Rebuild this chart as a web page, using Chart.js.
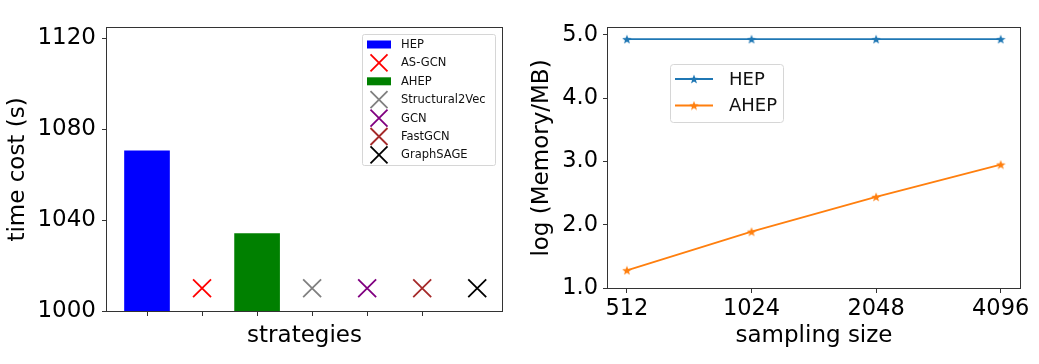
<!DOCTYPE html>
<html>
<head>
<meta charset="utf-8">
<script src="https://cdn.jsdelivr.net/npm/chart.js@4.4.0/dist/chart.umd.min.js"></script>
<style>
    body { margin: 0; background: #fff; }
    .wrap { position: absolute; top: 0; height: 364px; }
    #left { left: 0; width: 520px; }
    #right { left: 520px; width: 519px; }
</style>
</head>
<body>
<div class="wrap" id="left"><canvas id="timeChart" width="520" height="364"></canvas></div>
<div class="wrap" id="right"><canvas id="memChart" width="519" height="364"></canvas></div>
<script>
// Left panel: time cost per strategy
const strategies = ['HEP', 'AS-GCN', 'AHEP', 'Structural2Vec', 'GCN', 'FastGCN', 'GraphSAGE'];
const timeCost = [1070.4, 1010, 1034, 1010, 1010, 1010, 1010];
const drawnAsBar = [true, false, true, false, false, false, false];
const strategyColors = ['#0000ff', '#ff0000', '#008000', '#808080', '#800080', '#a52a2a', '#000000'];
const timeTicks = [1000, 1040, 1080, 1120];

// Right panel: memory vs sampling size
const samplingSizes = ['512', '1024', '2048', '4096'];
const hepMemory = [4.93, 4.93, 4.93, 4.93];
const ahepMemory = [1.28, 1.89, 2.44, 2.95];
const memTicks = [1.0, 2.0, 3.0, 4.0, 5.0];

const FONT = "'DejaVu Sans', sans-serif";
Chart.defaults.font.family = FONT;
Chart.defaults.color = '#000';

// small filled star, like matplotlib's '*' marker
function makeStar(color, size) {
    const c = document.createElement('canvas');
    c.width = size; c.height = size;
    const g = c.getContext('2d');
    const r = size / 2, ri = r * 0.42;
    g.beginPath();
    for (let i = 0; i < 10; i++) {
        const rad = (i % 2 === 0) ? r : ri;
        const a = -Math.PI / 2 + i * Math.PI / 5;
        g.lineTo(r + rad * Math.cos(a), r + 0.5 + rad * Math.sin(a));
    }
    g.closePath();
    g.fillStyle = color;
    g.fill();
    return c;
}

function drawX(ctx, x, y, half, color) {
    ctx.save();
    ctx.strokeStyle = color;
    ctx.lineWidth = 1.8;
    ctx.beginPath();
    ctx.moveTo(x - half, y - half); ctx.lineTo(x + half, y + half);
    ctx.moveTo(x - half, y + half); ctx.lineTo(x + half, y - half);
    ctx.stroke();
    ctx.restore();
}

function roundRect(ctx, x, y, w, h, r) {
    ctx.beginPath();
    ctx.moveTo(x + r, y);
    ctx.arcTo(x + w, y, x + w, y + h, r);
    ctx.arcTo(x + w, y + h, x, y + h, r);
    ctx.arcTo(x, y + h, x, y, r);
    ctx.arcTo(x, y, x + w, y, r);
    ctx.closePath();
}

const framePlugin = {
    id: 'frame',
    afterDatasetsDraw(chart) {
        const a = chart.chartArea, ctx = chart.ctx;
        ctx.save();
        ctx.strokeStyle = '#333';
        ctx.lineWidth = 1;
        ctx.strokeRect(Math.round(a.left) - 0.5, Math.round(a.top) - 0.5,
            Math.round(a.right - a.left) + 1, Math.round(a.bottom - a.top) + 1);
        ctx.restore();
    }
};

function tickGrid() {
    return { display: true, offset: false, drawOnChartArea: false, drawTicks: true, tickLength: 5, color: '#333', lineWidth: 1 };
}

// ---- left chart ----
const timeDatasets = strategies.map((name, i) => {
    const point = [{ x: i, y: timeCost[i] }];
    if (drawnAsBar[i]) {
        return {
            type: 'bar', label: name, data: point,
            backgroundColor: strategyColors[i], borderWidth: 0,
            barThickness: 45, grouped: false
        };
    }
    return {
        type: 'scatter', label: name, data: point,
        pointStyle: 'crossRot', radius: 12.7, borderColor: strategyColors[i],
        borderWidth: 1.8, backgroundColor: strategyColors[i]
    };
});

const timeLegend = {
    id: 'timeLegend',
    afterDraw(chart) {
        const ctx = chart.ctx;
        ctx.save();
        roundRect(ctx, 362.5, 34.5, 133, 131, 2);
        ctx.fillStyle = 'rgba(255,255,255,0.8)';
        ctx.fill();
        ctx.strokeStyle = '#d6d6d6';
        ctx.lineWidth = 1;
        ctx.stroke();
        ctx.font = '11.5px ' + FONT;
        ctx.textBaseline = 'middle';
        strategies.forEach((name, i) => {
            const y = 44.5 + i * 18.4;
            if (drawnAsBar[i]) {
                ctx.fillStyle = strategyColors[i];
                ctx.fillRect(367, y - 4, 24, 8);
            } else {
                drawX(ctx, 379, y, 8.5, strategyColors[i]);
            }
            ctx.fillStyle = '#111';
            ctx.fillText(name, 401, y + 0.5);
        });
        ctx.restore();
    }
};

new Chart(document.getElementById('timeChart'), {
    type: 'bar',
    data: { datasets: timeDatasets },
    options: {
        responsive: false,
        animation: false,
        events: [],
        layout: { padding: { left: 0, right: 18, top: 28, bottom: 0 } },
        plugins: { legend: { display: false }, tooltip: { enabled: false } },
        scales: {
            x: {
                type: 'linear', min: -0.727, max: 6.45, offset: false,
                afterBuildTicks: s => { s.ticks = strategies.slice(0, 6).map((_, i) => ({ value: i })); },
                afterFit: s => { s.height = 53; },
                ticks: { callback: () => '', padding: 0 },
                grid: tickGrid(),
                border: { display: false },
                title: { display: true, text: 'strategies', font: { size: 23 }, padding: { bottom: 14 } }
            },
            y: {
                type: 'linear', min: 1000, max: 1124.4,
                afterBuildTicks: s => { s.ticks = timeTicks.map(v => ({ value: v })); },
                afterFit: s => { s.width = 107; },
                ticks: { font: { size: 23 }, padding: 6, callback: v => String(v) },
                grid: tickGrid(),
                border: { display: false },
                title: { display: true, text: 'time cost (s)', font: { size: 23 }, padding: { top: 4 } }
            }
        }
    },
    plugins: [framePlugin, timeLegend]
});

// ---- right chart ----
const blue = '#1f77b4', orange = '#ff7f0e';
const blueStar = makeStar(blue, 10), orangeStar = makeStar(orange, 10);

const memLegend = {
    id: 'memLegend',
    afterDraw(chart) {
        const ctx = chart.ctx;
        ctx.save();
        roundRect(ctx, 150.5, 64.5, 113, 58, 3);
        ctx.fillStyle = 'rgba(255,255,255,0.8)';
        ctx.fill();
        ctx.strokeStyle = '#d6d6d6';
        ctx.lineWidth = 1;
        ctx.stroke();
        ctx.font = '18px ' + FONT;
        ctx.textBaseline = 'middle';
        [['HEP', blue, blueStar, 79], ['AHEP', orange, orangeStar, 105.5]].forEach(([name, col, star, y]) => {
            ctx.strokeStyle = col;
            ctx.lineWidth = 1.8;
            ctx.beginPath();
            ctx.moveTo(155, y); ctx.lineTo(193, y);
            ctx.stroke();
            ctx.drawImage(star, 174 - 5, y - 5);
            ctx.fillStyle = '#111';
            ctx.fillText(name, 209, y + 1);
        });
        ctx.restore();
    }
};

new Chart(document.getElementById('memChart'), {
    type: 'line',
    data: {
        datasets: [
            {
                label: 'HEP', data: hepMemory.map((v, i) => ({ x: i, y: v })),
                borderColor: blue, backgroundColor: blue, borderWidth: 1.8,
                pointStyle: blueStar, pointRadius: 5
            },
            {
                label: 'AHEP', data: ahepMemory.map((v, i) => ({ x: i, y: v })),
                borderColor: orange, backgroundColor: orange, borderWidth: 1.8,
                pointStyle: orangeStar, pointRadius: 5
            }
        ]
    },
    options: {
        responsive: false,
        animation: false,
        events: [],
        layout: { padding: { left: 0, right: 19, top: 28, bottom: 0 } },
        plugins: { legend: { display: false }, tooltip: { enabled: false } },
        scales: {
            x: {
                type: 'linear', min: -0.152, max: 3.155,
                afterBuildTicks: s => { s.ticks = samplingSizes.map((_, i) => ({ value: i })); },
                afterFit: s => { s.height = 76; },
                ticks: { font: { size: 22.5 }, padding: 3, callback: v => samplingSizes[v] },
                grid: tickGrid(),
                border: { display: false },
                title: { display: true, text: 'sampling size', font: { size: 23 }, padding: { bottom: 14 } }
            },
            y: {
                type: 'linear', min: 1.0, max: 5.106,
                afterBuildTicks: s => { s.ticks = memTicks.map(v => ({ value: v })); },
                afterFit: s => { s.width = 88; },
                ticks: { font: { size: 22.5 }, padding: 5, callback: v => v.toFixed(1) },
                grid: tickGrid(),
                border: { display: false },
                title: { display: true, text: 'log (Memory/MB)', font: { size: 23 }, padding: { top: 8 } }
            }
        }
    },
    plugins: [framePlugin, memLegend]
});
</script>
</body>
</html>
